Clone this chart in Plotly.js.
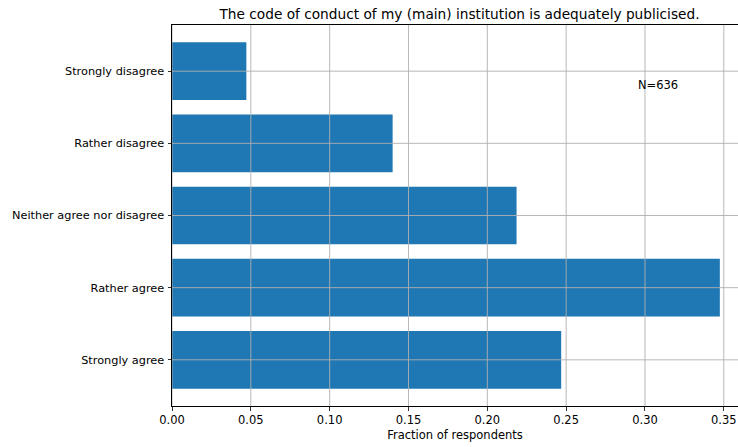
<!DOCTYPE html>
<html>
<head>
<meta charset="utf-8">
<script src="https://cdn.plot.ly/plotly-3.0.1.min.js"></script>
<style>html,body{margin:0;padding:0;background:#fff;}#chart{width:738px;height:447px;}</style>
</head>
<body>
<div id="chart"></div>
<script>
const categories = ["Strongly agree", "Rather agree", "Neither agree nor disagree", "Rather disagree", "Strongly disagree"];
const counts = [157, 221, 139, 89, 30];
const totalN = 636;
const fractions = counts.map(c => c / totalN);
const xTicks = [0, 0.05, 0.10, 0.15, 0.20, 0.25, 0.30, 0.35];
const xTickLabels = ["0.00", "0.05", "0.10", "0.15", "0.20", "0.25", "0.30", "0.35"];
const titleText = "The code of conduct of my (main) institution is adequately publicised.";
const annText = "N=" + totalN;

const font = "DejaVu Sans, sans-serif";
const gridColor = "#b0b0b0";
const trace = {
  type: "bar",
  orientation: "h",
  x: fractions,
  y: categories,
  width: 0.8,
  marker: {color: "#1f77b4", line: {width: 0}},
  hoverinfo: "none"
};
// grid lines drawn above the bars (as in the reference)
const gridShapes = [];
xTicks.forEach(v => gridShapes.push({
  type: "line", xref: "x", yref: "paper", x0: v, x1: v, y0: 0, y1: 1,
  line: {color: gridColor, width: 0.9}, layer: "above"
}));
categories.forEach(c => gridShapes.push({
  type: "line", xref: "paper", yref: "y", x0: 0, x1: 1, y0: c, y1: c,
  line: {color: gridColor, width: 0.9}, layer: "above"
}));

const layout = {
  width: 738, height: 447,
  margin: {l: 172, r: 0, t: 25, b: 41, pad: 0},
  paper_bgcolor: "#fff", plot_bgcolor: "#fff",
  font: {family: font, size: 11.5, color: "#000"},
  showlegend: false,
  title: {text: titleText, font: {family: font, size: 13.7, color: "#000"},
          x: 459.5 / 738, xref: "container", xanchor: "center", y: 1 - 14 / 447, yref: "container", yanchor: "middle"},
  xaxis: {
    range: [0, 0.359],
    tickvals: xTicks, ticktext: xTickLabels,
    showgrid: false,
    showline: true, linecolor: "#000", linewidth: 1, mirror: true,
    ticks: "outside", ticklen: 3.5, tickcolor: "#000", tickwidth: 0.8,
    zeroline: false, layer: "above traces",
    tickfont: {family: font, size: 11.5, color: "#000"},
    title: {text: "Fraction of respondents", font: {family: font, size: 11.5, color: "#000"}, standoff: 4},
    fixedrange: true
  },
  yaxis: {
    type: "category",
    categoryorder: "array", categoryarray: categories,
    range: [-0.64, 4.64],
    showgrid: false,
    showline: true, linecolor: "#000", linewidth: 1, mirror: false,
    ticks: "outside", ticklen: 3.5, tickcolor: "#000", tickwidth: 0.8,
    zeroline: false, layer: "above traces",
    tickfont: {family: font, size: 11.3, color: "#000"},
    ticklabelstandoff: 1,
    fixedrange: true
  },
  shapes: gridShapes,
  annotations: [{
    text: annText, x: 0.2943, y: 3.81, xref: "x", yref: "y",
    xanchor: "left", yanchor: "middle", showarrow: false,
    font: {family: font, size: 11.5, color: "#000"}
  }]
};
Plotly.newPlot("chart", [trace], layout, {displayModeBar: false, staticPlot: true});
</script>
</body>
</html>
